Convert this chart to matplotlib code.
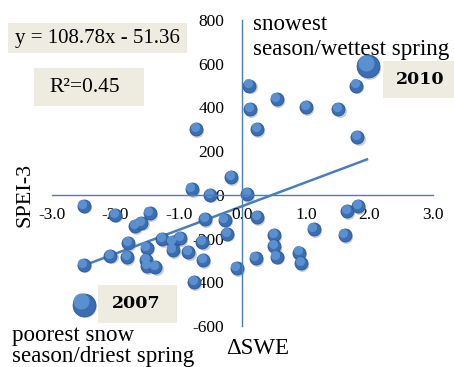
import matplotlib
matplotlib.use("Agg")
import matplotlib.pyplot as plt
from matplotlib.patches import Rectangle
from matplotlib.transforms import offset_copy

plt.rcParams["font.family"] = ["Liberation Serif", "DejaVu Serif"]

# Change in snow water equivalent vs. spring SPEI-3
d_swe = [-2.50, -2.50, -2.08, -2.01, -1.82, -1.80, -1.69, -1.59, -1.46, -1.51,
         -1.52, -1.50, -1.37, -1.26, -1.10, -0.98, -1.10, -0.85, -0.63, -0.62,
         -0.76, -0.80, -0.51, -0.18, -0.73, 0.07, -0.59, -0.28, 0.23, -0.24,
         -0.09, 0.21, 0.50, 0.50, 0.54, 0.89, 0.92, 1.12, 1.61, 1.65,
         1.82, 0.11, 0.12, 0.23, 0.54, 1.00, 1.51, 1.79, 1.81]
spei3 = [-50, -320, -279, -91, -285, -222, -143, -127, -85, -242,
         -297, -326, -331, -204, -218, -198, -253, -262, -215, -300,
         -398, 26, 0, 81, 300, 3, -111, -114, -102, -178,
         -335, -290, -183, -236, -283, -264, -313, -157, -183, -76,
         -53, 500, 392, 300, 439, 401, 392, 500, 264]

# highlighted seasons (2010, 2007)
hl_x = [1.98, -2.50]
hl_y = [587, -503]

slope, intercept = 108.78, -51.36
r2 = 0.45

x_ticks = [-3, -2, -1, 0, 1, 2, 3]
y_ticks = [-600, -400, -200, 0, 200, 400, 600, 800]

BLUE = "#4a7ebb"
BEIGE = "#eeece1"
W, H = 454, 367

fig = plt.figure(figsize=(W / 100, H / 100), dpi=100)
ax = fig.add_axes([0.1145, 0.1117, 0.839, 0.834])
ax.set_xlim(-3, 3)
ax.set_ylim(-600, 800)

for side in ("top", "right"):
    ax.spines[side].set_visible(False)
ax.spines["left"].set_position(("data", 0))
ax.spines["bottom"].set_position(("data", 0))
for side in ("left", "bottom"):
    ax.spines[side].set_color(BLUE)
    ax.spines[side].set_linewidth(1.0)

ax.set_xticks(x_ticks)
ax.set_xticklabels([f"{v:.1f}" for v in x_ticks])
ax.set_yticks(y_ticks)
ax.set_yticklabels([str(v) for v in y_ticks])
ax.tick_params(axis="x", length=0, pad=9, labelsize=12.5)
ax.tick_params(axis="y", length=0, pad=13, labelsize=12.5)

# linear trend over the data range
x0, x1 = min(d_swe), max(d_swe + hl_x[:1])
ax.plot([x0, x1], [slope * x0 + intercept, slope * x1 + intercept],
        color=BLUE, lw=1.8, zorder=1.5, solid_capstyle="butt")


def spheres(xs, ys, size):
    r = size ** 0.5
    shadow = offset_copy(ax.transData, fig=fig, x=0.9, y=-1.2, units="points")
    hi = offset_copy(ax.transData, fig=fig, x=-0.1 * r, y=0.16 * r, units="points")
    ax.scatter(xs, ys, s=size, color="#7a8796", alpha=0.4, lw=0,
               transform=shadow, zorder=1.6)
    ax.scatter(xs, ys, s=size, color="#3a6db2", edgecolors="#2b578f", lw=0.6,
               zorder=1.7)
    ax.scatter(xs, ys, s=size * 0.5, color="#5e93d4", lw=0, alpha=0.9,
               transform=hi, zorder=1.8)


spheres(d_swe, spei3, 88)
spheres(hl_x, hl_y, 270)


def px(x, y):
    return x / W, 1 - y / H


def label_box(x0, y0, x1, y1):
    fig.patches.append(Rectangle(px(x0, y1), (x1 - x0) / W, (y1 - y0) / H,
                                 transform=fig.transFigure, fc=BEIGE, ec="none",
                                 zorder=0.5))


fig.text(*px(25, 195), "SPEI-3", rotation=90, fontsize=16, ha="center", va="center")
fig.text(*px(258, 348), "\u0394SWE", fontsize=16.5, ha="center", va="center")

fig.text(*px(253, 30), "snowest", fontsize=16.6, ha="left", va="baseline")
fig.text(*px(253, 55), "season/wettest spring", fontsize=16.6, ha="left", va="baseline")
fig.text(*px(12, 341), "poorest snow", fontsize=16.6, ha="left", va="baseline")
fig.text(*px(12, 362), "season/driest spring", fontsize=16.6, ha="left", va="baseline")

label_box(8, 23, 187, 53)
fig.text(*px(97, 39), f"y = {slope:.2f}x - {abs(intercept):.2f}", fontsize=15,
         ha="center", va="center")
label_box(34, 68, 144, 106)
fig.text(*px(85, 87), f"R\u00b2={r2:.2f}", fontsize=15.5, ha="center", va="center")

label_box(383, 61, 456, 98)
fig.text(*px(420, 80), "2010", fontsize=12.5, fontweight="bold",
         family="DejaVu Serif", ha="center", va="center")
label_box(98, 285, 177, 323)
fig.text(*px(136, 304), "2007", fontsize=12.5, fontweight="bold",
         family="DejaVu Serif", ha="center", va="center")

fig.savefig("out.png", dpi=100)
